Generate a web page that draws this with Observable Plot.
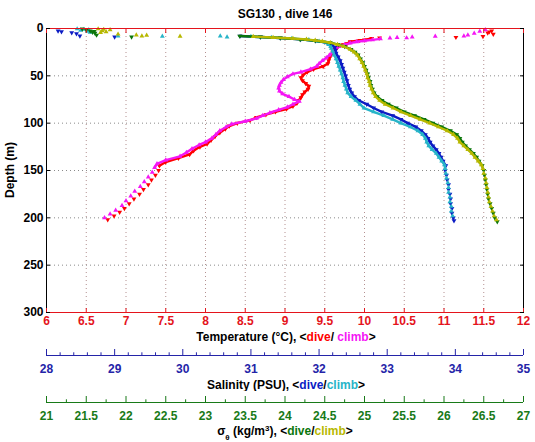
<!DOCTYPE html>
<html><head><meta charset="utf-8">
<script src="https://cdn.jsdelivr.net/npm/d3@7"></script>
<script src="https://cdn.jsdelivr.net/npm/@observablehq/plot@0.6"></script>
<style>
body{margin:0;background:#fff;}
#chart{width:535px;}
#chart svg{display:block;}
</style></head><body><div id="chart"></div>
<script>
// ---- labels / ticks ----
const title = "SG130 , dive 146";
const depthLabel = "Depth (m)";
const tempTicks = [6,6.5,7,7.5,8,8.5,9,9.5,10,10.5,11,11.5,12];
const depthTicks = [0,50,100,150,200,250,300];
const salTicks = [28,29,30,31,32,33,34,35];
const salMinor = [28.2,28.4,28.6,28.8,29.2,29.4,29.6,29.8,30.2,30.4,30.6,30.8,31.2,31.4,31.6,31.8,32.2,32.4,32.6,32.8,33.2,33.4,33.6,33.8,34.2,34.4,34.6,34.8];
const sigTicks = [21,21.5,22,22.5,23,23.5,24,24.5,25,25.5,26,26.5,27];
const sigMinor = [21.25,21.75,22.25,22.75,23.25,23.75,24.25,24.75,25.25,25.75,26.25,26.75];

// ---- data: [depth (m), value] ----
const tempDive = [[2.6,11.6],[3.5,11.57],[4.7,11.55],[6,11.62],[8.3,11.49],[9.3,11.15],[10,10.19],[10.5,10.09],[12,10.0],[12.5,9.94],[14,9.82],[16,9.78],[17,9.73],[20,9.66],[22,9.62],[25,9.6],[28,9.58],[31,9.56],[34,9.55],[37,9.54],[40,9.48],[43,9.36],[46,9.28],[49,9.23],[52,9.2],[55,9.22],[58,9.26],[61,9.3],[64,9.29],[67,9.25],[70,9.22],[73,9.2],[76,9.17],[79,9.15],[82,9.1],[85,9.02],[88,8.88],[91,8.76],[94,8.64],[97,8.56],[100,8.4],[103,8.3],[106,8.25],[110,8.18],[114,8.12],[118,8.07],[122,8.02],[125,7.93],[129,7.85],[133,7.8],[137,7.66],[141,7.5],[145,7.42],[150,7.41],[155,7.37],[160,7.32],[165,7.28],[170,7.22],[175,7.17],[180,7.1],[185,7.04],[190,6.98],[194,6.92],[198,6.85],[202,6.77]];
const tempClimb = [[1.5,11.52],[3,11.45],[5,11.38],[7,11.3],[8,11.25],[8.3,10.89],[9,10.6],[10,10.53],[9.5,10.41],[10.2,10.32],[11,10.2],[12,10.1],[13,10.0],[14,9.9],[15.5,9.82],[17,9.75],[19,9.68],[22,9.63],[25,9.6],[28,9.56],[31,9.52],[34,9.47],[37,9.43],[40,9.4],[43,9.32],[46,9.2],[48,9.1],[51,9.03],[54,8.98],[57,8.95],[60,8.93],[63,8.92],[66,8.93],[69,8.97],[72,9.05],[75,9.12],[77,9.18],[80,9.1],[83,9.03],[86,8.92],[89,8.81],[92,8.72],[95,8.64],[98,8.5],[101,8.33],[104,8.26],[108,8.18],[112,8.13],[116,8.08],[120,8.0],[123,7.92],[127,7.83],[131,7.76],[135,7.68],[139,7.5],[143,7.39],[147,7.36],[152,7.33],[157,7.28],[162,7.23],[167,7.18],[172,7.11],[177,7.06],[182,7.0],[187,6.95],[192,6.87],[196,6.8],[200,6.73]];
const salDive = [[2.6,28.17],[3.4,28.22],[4.4,28.37],[5.5,28.44],[7.9,28.49],[9,29.0],[8,30.84],[9,31.14],[10,31.43],[11.5,31.73],[13,31.95],[15,32.12],[17,32.19],[20,32.23],[23,32.24],[26,32.25],[30,32.28],[34,32.31],[38,32.33],[42,32.35],[46,32.37],[50,32.39],[55,32.41],[60,32.43],[64,32.45],[68,32.48],[72,32.52],[76,32.58],[80,32.7],[84,32.8],[88,32.92],[92,33.08],[96,33.2],[100,33.3],[104,33.42],[108,33.5],[112,33.56],[116,33.6],[120,33.63],[124,33.67],[128,33.72],[132,33.76],[136,33.79],[140,33.82],[145,33.86],[150,33.85],[155,33.87],[160,33.88],[165,33.9],[170,33.9],[175,33.92],[180,33.93],[185,33.93],[190,33.95],[195,33.95],[200,33.97],[203,33.98]];
const salClimb = [[0.5,28.45],[1,28.55],[1.5,28.62],[2,28.5],[3,28.6],[4,28.64],[8,29.05],[8.2,29.7],[8,30.55],[9,30.65],[8.5,31.0],[9.5,31.3],[10.5,31.6],[12,31.85],[13.5,32.0],[15,32.1],[17,32.14],[19,32.17],[21,32.18],[24,32.2],[28,32.22],[32,32.25],[36,32.27],[40,32.29],[44,32.31],[48,32.33],[52,32.35],[56,32.36],[60,32.38],[64,32.4],[68,32.42],[72,32.47],[76,32.54],[80,32.6],[84,32.66],[88,32.8],[92,32.95],[96,33.08],[100,33.2],[104,33.34],[108,33.45],[112,33.52],[116,33.56],[120,33.58],[124,33.61],[128,33.66],[132,33.72],[136,33.76],[140,33.8],[144,33.84],[148,33.85],[153,33.86],[158,33.87],[163,33.89],[168,33.9],[173,33.9],[178,33.92],[183,33.92],[188,33.94],[193,33.94],[198,33.96]];
const sigDive = [[0.5,21.45],[1.5,21.5],[2.5,21.55],[3,21.6],[4,21.58],[5,21.61],[6.9,21.63],[9,22.07],[8,23.43],[9,23.69],[10,23.94],[11.5,24.19],[13,24.38],[15,24.57],[17,24.67],[19,24.75],[22,24.83],[25,24.88],[28,24.92],[32,24.95],[36,24.98],[40,25.0],[44,25.02],[48,25.04],[52,25.05],[56,25.07],[60,25.08],[64,25.1],[68,25.12],[72,25.16],[76,25.22],[80,25.3],[84,25.4],[88,25.5],[92,25.63],[96,25.75],[100,25.86],[104,25.97],[108,26.08],[112,26.16],[116,26.2],[120,26.23],[124,26.27],[128,26.32],[132,26.37],[136,26.41],[140,26.44],[145,26.48],[150,26.5],[155,26.51],[160,26.52],[165,26.53],[170,26.54],[175,26.55],[180,26.56],[185,26.58],[190,26.6],[195,26.62],[200,26.64],[204,26.67]];
const sigClimb = [[0.5,21.65],[1,21.72],[1.5,21.8],[2.5,21.7],[3.5,21.75],[4.4,21.68],[6,21.9],[7,22.13],[7.2,22.26],[8,22.2],[8.2,22.68],[8.5,23.6],[9.5,23.85],[10.5,24.1],[11.5,24.27],[12.5,24.38],[13.5,24.47],[15,24.57],[17,24.66],[19,24.74],[22,24.82],[25,24.87],[28,24.91],[32,24.94],[36,24.97],[40,24.99],[44,25.01],[48,25.03],[52,25.04],[56,25.06],[60,25.07],[64,25.09],[68,25.11],[72,25.14],[76,25.19],[80,25.26],[84,25.36],[88,25.46],[92,25.58],[96,25.7],[100,25.82],[104,25.93],[108,26.04],[112,26.12],[116,26.17],[120,26.2],[124,26.25],[128,26.3],[132,26.35],[136,26.39],[140,26.43],[144,26.47],[148,26.49],[153,26.5],[158,26.52],[163,26.53],[168,26.54],[173,26.55],[178,26.56],[183,26.57],[188,26.59],[193,26.61],[198,26.63],[202,26.66]];

// ---- styling ----
const FONT = "'Liberation Sans', Arial, Helvetica, sans-serif";
const C = {
  tAxis:"#e4141c", tDive:"#ff0000", tClimb:"#f516f5",
  sAxis:"#2424a8", sDive:"#0c1cc4", sClimb:"#27b4c8",
  gAxis:"#187a18", gDive:"#0b760b", gClimb:"#b7b800"
};
const triUp = d3.symbolTriangle;
const triDown = {draw(ctx, size){
  const y = -Math.sqrt(size / (Math.sqrt(3) * 3));
  ctx.moveTo(0, -y * 2);
  ctx.lineTo(-Math.sqrt(3) * y, y);
  ctx.lineTo(Math.sqrt(3) * y, y);
  ctx.closePath();
}};
// secondary axes mapped onto the temperature (primary) x range
const salToT = d3.scaleLinear([28, 35], [6, 12]);
const sigToT = d3.scaleLinear([21, 27], [6, 12]);
const idT = (v) => v;
const byDepth = (a) => a.slice().sort((p, q) => p[0] - q[0]);

// the connecting line is only drawn through the continuous part of each profile
function series(data, map, color, symbol, minDepth, minX) {
  const xv = (d) => map(d[1]);
  const cont = byDepth(data).filter(d => d[0] >= minDepth && d[0] <= 148 && map(d[1]) >= minX);
  return [
    Plot.line(cont, {x: xv, y: d => d[0], stroke: color, strokeWidth: 2.4}),
    Plot.dot(data, {x: xv, y: d => d[0], symbol, r: 1.8, fill: color, stroke: "none"})
  ];
}

const main = Plot.plot({
  width: 535, height: 344,
  marginLeft: 46, marginRight: 12, marginTop: 28, marginBottom: 32,
  x: {domain: [6, 12], label: null},
  y: {domain: [0, 300], reverse: true, label: null},
  style: {fontFamily: FONT, fontSize: "12px", fontWeight: "bold", background: "white", color: "black"},
  marks: [
    Plot.gridX(tempTicks.slice(1, -1), {stroke: "#b39090", strokeOpacity: 1, strokeDasharray: "1,3"}),
    Plot.gridY(depthTicks.slice(1, -1), {stroke: "#8a8a8a", strokeOpacity: 1, strokeDasharray: "1,3"}),
    ...series(tempDive, idT, C.tDive, triDown, 10.5, 0),
    ...series(tempClimb, idT, C.tClimb, triUp, 10.5, 0),
    ...series(salDive, salToT, C.sDive, triDown, 0, 8.3),
    ...series(salClimb, salToT, C.sClimb, triUp, 0, 8.3),
    ...series(sigDive, sigToT, C.gDive, triDown, 0, 8.3),
    ...series(sigClimb, sigToT, C.gClimb, triUp, 0, 8.3),
    Plot.ruleX([6, 12], {stroke: "black"}),
    Plot.ruleY([0, 300], {stroke: C.tAxis}),
    Plot.axisX(tempTicks, {anchor: "bottom", tickSize: -4, tickFormat: () => "", color: C.tAxis, label: null}),
    Plot.axisX(tempTicks, {anchor: "top", tickSize: -4, tickFormat: () => "", color: C.tAxis, label: null}),
    Plot.axisX(tempTicks, {anchor: "bottom", tickSize: 0, tickPadding: 4, tickFormat: d => String(d), color: C.tAxis, label: null}),
    Plot.axisY(depthTicks, {anchor: "left", tickSize: -4, tickFormat: () => "", color: "black", label: null}),
    Plot.axisY(depthTicks, {anchor: "right", tickSize: -4, tickFormat: () => "", color: "black", label: null}),
    Plot.axisY(depthTicks, {anchor: "left", tickSize: 0, tickPadding: 3, tickFormat: d => String(d), color: "black", label: null})
  ]
});

function subAxis(domain, major, minor, color, height) {
  return Plot.plot({
    width: 535, height,
    marginLeft: 46, marginRight: 12, marginTop: 5, marginBottom: height - 11,
    x: {domain, label: null},
    y: {domain: [0, 1], axis: null},
    style: {fontFamily: FONT, fontSize: "12px", fontWeight: "bold", background: "white"},
    marks: [
      Plot.ruleY([0], {stroke: color}),
      Plot.ruleX(major, {y1: 0, y2: 1, stroke: color}),
      Plot.ruleX(minor, {y1: 0, y2: 0.45, stroke: color}),
      Plot.axisX(major, {anchor: "bottom", tickSize: 0, tickPadding: 9, tickFormat: d => String(d), color, label: null})
    ]
  });
}
const salPlot = subAxis([28, 35], salTicks, salMinor, C.sAxis, 47);
const sigPlot = subAxis([21, 27], sigTicks, sigMinor, C.gAxis, 51);

const root = document.getElementById("chart");
root.append(main, salPlot, sigPlot);

// titles (multi-coloured labels)
function addLabel(svg, x, y, parts, opts = {}) {
  const t = d3.select(svg).append("text")
    .attr("x", x).attr("y", y).attr("text-anchor", "middle")
    .attr("font-family", FONT).attr("font-size", 12).attr("font-weight", "bold")
    .attr("fill", "black");
  if (opts.rotate) t.attr("transform", `rotate(-90 ${x} ${y})`);
  for (const p of parts) {
    const s = t.append("tspan").text(p.t).attr("fill", p.c || "black");
    if (p.shift) s.attr("baseline-shift", p.shift).attr("font-size", 8);
  }
  return t;
}
addLabel(main, 285, 18, [{t: title}]);
addLabel(main, 14, 170, [{t: depthLabel}], {rotate: true});
addLabel(main, 286, 341, [{t: "Temperature (°C), <"}, {t: "dive", c: C.tDive}, {t: "/ "}, {t: "climb", c: C.tClimb}, {t: ">"}]);
addLabel(salPlot, 286, 45, [{t: "Salinity (PSU), <"}, {t: "dive", c: C.sDive}, {t: "/"}, {t: "climb", c: C.sClimb}, {t: ">"}]);
addLabel(sigPlot, 285, 44, [{t: "σ"}, {t: "θ", shift: "sub"}, {t: " (kg/m"}, {t: "3", shift: "super"}, {t: "), <"}, {t: "dive", c: C.gDive}, {t: "/"}, {t: "climb", c: C.gClimb}, {t: ">"}]);
</script></body></html>
